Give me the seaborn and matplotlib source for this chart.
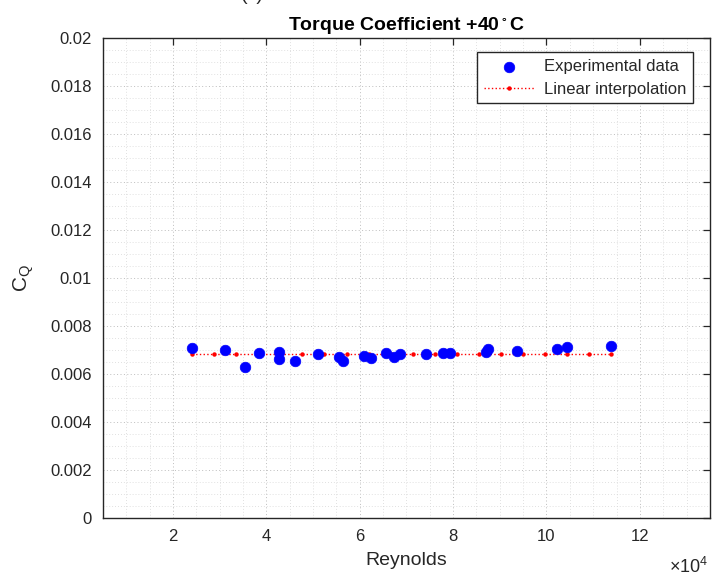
import numpy as np
import pandas as pd
import matplotlib
matplotlib.use("Agg")
import matplotlib.pyplot as plt
from matplotlib.ticker import MultipleLocator, FuncFormatter
import seaborn as sns

# Experimental data (Reynolds, torque coefficient)
reynolds = [24080, 31170, 35470, 38400, 42780, 42630, 46080, 50960, 55470, 56330,
            60980, 62420, 65580, 67300, 68590, 74200, 77900, 79340, 87000, 87520,
            93600, 102270, 104350, 113880]
cq = [0.007096, 0.006988, 0.006279, 0.006875, 0.006917, 0.006613, 0.006529, 0.006821,
      0.006708, 0.006554, 0.006750, 0.006654, 0.006863, 0.006721, 0.006833, 0.006813,
      0.006863, 0.006888, 0.006904, 0.007029, 0.006958, 0.007042, 0.007125, 0.007167]

# Linear interpolation points
interp_re = [24080, 28810, 33530, 38260, 42990, 47710, 52440, 57170, 61900, 66620,
             71350, 76080, 80800, 85530, 90260, 94980, 99710, 104440, 109160, 113880]
interp_cq = [0.00683, 0.00683, 0.00683, 0.00683, 0.00683, 0.00683, 0.00683, 0.00683,
             0.00683, 0.00683, 0.00683, 0.00683, 0.00683, 0.00683, 0.00683, 0.00683,
             0.00683, 0.00683, 0.00683, 0.00683]

sns.set_style("white")
plt.rcParams['font.family'] = ['Liberation Sans', 'DejaVu Sans']

fig = plt.figure(figsize=(7.12, 5.77), dpi=100)
ax = fig.add_axes([0.1447, 0.1023, 0.8523, 0.8318])

df_exp = pd.DataFrame({"Re": reynolds, "CQ": cq})
df_int = pd.DataFrame({"Re": interp_re, "CQ": interp_cq})

sns.lineplot(data=df_int, x="Re", y="CQ", ax=ax, color="red", linestyle=":",
             linewidth=1.0, marker="o", markersize=3.2, markeredgewidth=0,
             label="Linear interpolation", zorder=3, sort=False)
sns.scatterplot(data=df_exp, x="Re", y="CQ", ax=ax, color="blue", s=58,
                edgecolor="blue", linewidth=0.5, label="Experimental data", zorder=4)

ax.set_xlim(5000, 135000)
ax.set_ylim(0, 0.02)
ax.xaxis.set_major_locator(MultipleLocator(20000))
ax.xaxis.set_minor_locator(MultipleLocator(5000))
ax.yaxis.set_major_locator(MultipleLocator(0.002))
ax.yaxis.set_minor_locator(MultipleLocator(0.0005))
ax.xaxis.set_major_formatter(FuncFormatter(lambda v, p: f"{v/1e4:g}"))
ax.yaxis.set_major_formatter(FuncFormatter(lambda v, p: "0" if v == 0 else f"{v:.3f}".rstrip("0")))

ax.grid(True, which="major", linestyle=(0, (1, 2.5)), color="#bdbdbd", linewidth=0.7)
ax.grid(True, which="minor", linestyle=(0, (1, 2.5)), color="#d6d6d6", linewidth=0.6)
ax.set_axisbelow(True)

for s in ax.spines.values():
    s.set_color("#262626")
    s.set_linewidth(1.0)
    s.set_visible(True)

ax.tick_params(axis="both", which="major", direction="in", length=5, width=0.9,
               color="#262626", labelsize=12, labelcolor="#262626",
               top=True, right=True, pad=8)
ax.tick_params(axis="both", which="minor", length=0)

ax.set_xlabel("Reynolds", fontsize=14, color="#262626", labelpad=6)
ax.set_ylabel("C$_\\mathregular{Q}$", fontsize=15, color="#262626", labelpad=10)
ax.set_title("Torque Coefficient +40$\\mathregular{^\\circ}$C", fontsize=14,
             fontweight="bold", color="black", pad=6)

fig.text(0.995, 0.0, "$\\mathregular{\\times10^4}$", fontsize=13, color="#262626",
         ha="right", va="bottom")
fig.text(252 / 712, 1 - 4 / 577, "(c)", fontsize=14, color="#262626",
         ha="center", va="bottom")

handles, labels = ax.get_legend_handles_labels()
order = [labels.index("Experimental data"), labels.index("Linear interpolation")]
leg = ax.legend([handles[i] for i in order], [labels[i] for i in order],
                loc="upper right", bbox_to_anchor=(0.973, 0.97), fontsize=12,
                frameon=True, fancybox=False, edgecolor="#262626", framealpha=1,
                borderpad=0.4, handlelength=3.1, handletextpad=0.55,
                labelspacing=0.45, borderaxespad=0)
leg.get_frame().set_linewidth(1.0)

fig.savefig("out.png", dpi=100)
